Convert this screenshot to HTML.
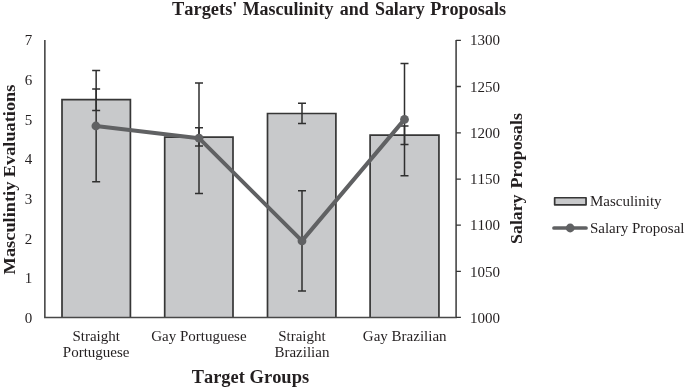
<!DOCTYPE html>
<html><head><meta charset="utf-8">
<style>
html,body{margin:0;padding:0;background:#fff;}
svg{display:block;will-change:transform;}
text{font-family:"Liberation Serif",serif;fill:#231f20;font-kerning:none;}
.b{font-weight:bold;}
</style></head>
<body>
<svg width="685" height="389" viewBox="0 0 685 389">
<!-- title -->
<g class="b" font-size="18">
<text x="172" y="15.4" textLength="65.4" lengthAdjust="spacingAndGlyphs">Targets'</text>
<text x="242.7" y="15.4" textLength="90.7" lengthAdjust="spacingAndGlyphs">Masculinity</text>
<text x="339.7" y="15.4" textLength="29" lengthAdjust="spacingAndGlyphs">and</text>
<text x="374.9" y="15.4" textLength="49.9" lengthAdjust="spacingAndGlyphs">Salary</text>
<text x="430.2" y="15.4" textLength="75.9" lengthAdjust="spacingAndGlyphs">Proposals</text>
</g>

<!-- bars -->
<g fill="#c8c9cb" stroke="#363636" stroke-width="1.7">
<path d="M62.0,317.45 V99.6 H130.4 V317.45"/>
<path d="M164.7,317.45 V137.05 H233.0 V317.45"/>
<path d="M267.5,317.45 V113.5 H335.9 V317.45"/>
<path d="M370.1,317.45 V135.2 H438.95 V317.45"/>
</g>

<!-- axes -->
<g stroke="#484848" stroke-width="1.6" fill="none">
<path d="M44.85,40 V317.45 H456.1 V40"/>
</g>
<g stroke="#333" stroke-width="1.3" fill="none">
<path d="M456.1,40.4 h4.8 M456.1,86.5 h4.8 M456.1,132.8 h4.8 M456.1,179.1 h4.8 M456.1,225.2 h4.8 M456.1,271.4 h4.8 M456.1,317.45 h4.8"/>
</g>

<!-- masculinity error bars -->
<g stroke="#2f2f2f" stroke-width="1.5" fill="none">
<path d="M96.15,88.9 V110.55 M92.15,88.9 h8 M92.15,110.55 h8"/>
<path d="M199.0,127.8 V145.9 M195.00,127.8 h8 M195.00,145.9 h8"/>
<path d="M302.0,103.3 V123.6 M298.00,103.3 h8 M298.00,123.6 h8"/>
<path d="M404.5,126.1 V144.5 M400.50,126.1 h8 M400.50,144.5 h8"/>
</g>
<!-- salary error bars -->
<g stroke="#2f2f2f" stroke-width="1.5" fill="none">
<path d="M96.15,70.6 V181.8 M92.15,70.6 h8 M92.15,181.8 h8"/>
<path d="M199.0,83.0 V193.4 M195.00,83.0 h8 M195.00,193.4 h8"/>
<path d="M302.0,190.7 V290.9 M298.00,190.7 h8 M298.00,290.9 h8"/>
<path d="M404.5,63.4 V175.8 M400.50,63.4 h8 M400.50,175.8 h8"/>
</g>
<!-- salary line -->
<polyline points="95.9,126.0 199.0,138.15 302.0,240.9 404.5,119.4" fill="none" stroke="#606163" stroke-width="4" stroke-linejoin="round"/>
<g fill="#606163">
<circle cx="95.9" cy="126.0" r="4.4"/>
<circle cx="199.0" cy="138.15" r="4.4"/>
<circle cx="302.0" cy="240.9" r="4.4"/>
<circle cx="404.5" cy="119.4" r="4.4"/>
</g>

<!-- left axis labels -->
<g font-size="15" text-anchor="end">
<text x="32.3" y="45.2">7</text>
<text x="32.3" y="84.9">6</text>
<text x="32.3" y="124.5">5</text>
<text x="32.3" y="164.2">4</text>
<text x="32.3" y="203.8">3</text>
<text x="32.3" y="243.5">2</text>
<text x="32.3" y="283.1">1</text>
<text x="32.3" y="322.8">0</text>
</g>
<!-- right axis labels -->
<g font-size="15" text-anchor="start">
<text x="470" y="45.3">1300</text>
<text x="470" y="91.6">1250</text>
<text x="470" y="137.8">1200</text>
<text x="470" y="184.1">1150</text>
<text x="470" y="230.3">1100</text>
<text x="470" y="276.6">1050</text>
<text x="470" y="322.8">1000</text>
</g>

<!-- category labels -->
<g font-size="15" text-anchor="middle">
<text x="96.2" y="340.6">Straight</text>
<text x="96.2" y="357.4">Portuguese</text>
<text x="198.9" y="340.6">Gay Portuguese</text>
<text x="301.9" y="340.6">Straight</text>
<text x="301.9" y="357.4">Brazilian</text>
<text x="404.7" y="340.6">Gay Brazilian</text>
</g>

<!-- axis titles -->
<g class="b" font-size="18">
<text x="191.8" y="382.7" textLength="53" lengthAdjust="spacingAndGlyphs">Target</text>
<text x="249.6" y="382.7" textLength="59.5" lengthAdjust="spacingAndGlyphs">Groups</text>
<g transform="translate(15.4,274.4) rotate(-90) scale(1,0.96)">
<text x="0" y="0" textLength="92.8" lengthAdjust="spacingAndGlyphs">Masculintiy</text>
<text x="97.2" y="0" textLength="92.6" lengthAdjust="spacingAndGlyphs">Evaluations</text>
</g>
<g transform="translate(521.6,243.9) rotate(-90) scale(1,0.96)">
<text x="0" y="0" textLength="49.4" lengthAdjust="spacingAndGlyphs">Salary</text>
<text x="55.3" y="0" textLength="75.6" lengthAdjust="spacingAndGlyphs">Proposals</text>
</g>
</g>

<!-- legend -->
<rect x="554.65" y="197.75" width="31.4" height="7.1" fill="#c8c9cb" stroke="#363636" stroke-width="1.7" stroke-linejoin="round"/>
<text x="589.9" y="205.7" font-size="15">Masculinity</text>
<line x1="554" y1="228" x2="586" y2="228" stroke="#606163" stroke-width="3.7" stroke-linecap="round"/>
<circle cx="570.2" cy="228" r="4.4" fill="#606163"/>
<text x="589.9" y="232.9" font-size="15">Salary Proposal</text>
</svg>
</body></html>
